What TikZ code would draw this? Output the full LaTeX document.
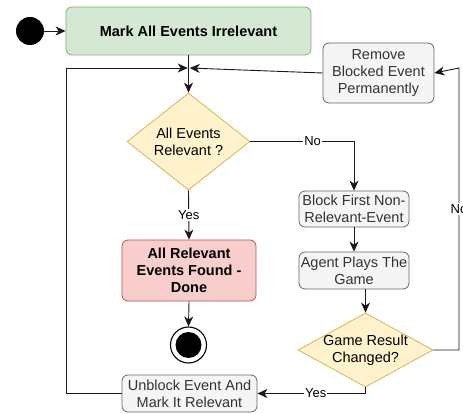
\documentclass[tikz,border=0pt]{standalone}
\usepackage{fontspec}
\setmainfont{Liberation Sans}
\usetikzlibrary{arrows.meta, shapes.geometric}
\definecolor{markgreen}{HTML}{D5E8D4}
\definecolor{markgreenline}{HTML}{82B366}
\definecolor{donered}{HTML}{F8CECC}
\definecolor{doneredline}{HTML}{B85450}
\definecolor{askyellow}{HTML}{FFF2CC}
\definecolor{askyellowline}{HTML}{D6B656}
\definecolor{stepgray}{HTML}{F5F5F5}
\definecolor{stepgrayline}{HTML}{666666}
\definecolor{steptext}{HTML}{333333}

\begin{document}
\begin{tikzpicture}[x=1pt, y=-1pt,
    font=\fontsize{14.5}{17}\selectfont,
    box/.style={draw, rounded corners=6pt, line width=0.8pt, align=center, inner sep=0pt},
    graybox/.style={box, fill=stepgray, draw=stepgrayline, text=steptext},
    ask/.style={diamond, draw=askyellowline, fill=askyellow, line width=0.8pt, inner sep=0pt},
    flow/.style={-{Stealth[length=10pt, width=9pt, inset=3pt]}, line width=0.9pt, black!90},
    lbl/.style={fill=white, text=black, font=\fontsize{13}{15}\selectfont, inner sep=1pt}]
    \useasboundingbox (0,0) rectangle (463,414);

    % start and first step
    \node[circle, fill=black, minimum size=28pt, inner sep=0pt] (start) at (30,31) {};
    \node[box, fill=markgreen, draw=markgreenline, minimum width=245pt, minimum height=48pt,
          font=\fontsize{14.5}{17}\selectfont\bfseries] (mark) at (188.5,31) {Mark All Events Irrelevant};
    \draw[flow] (start) -- (mark);

    % steps
    \node[graybox, minimum width=111pt, minimum height=60pt] (remove) at (378.5,73) {Remove\\Blocked Event\\Permanently};
    \node[graybox, minimum width=110pt, minimum height=36pt] (block) at (354,209) {Block First Non-\\Relevant-Event};
    \node[graybox, minimum width=110pt, minimum height=37pt] (agent) at (354,270.5) {Agent Plays The\\Game};
    \node[graybox, minimum width=135pt, minimum height=37pt] (unblock) at (189.5,393.5) {Unblock Event And\\Mark It Relevant};
    \node[box, fill=donered, draw=doneredline, minimum width=134pt, minimum height=61pt,
          font=\fontsize{14.5}{17}\selectfont\bfseries] (done) at (189,270.5) {All Relevant\\Events Found -\\Done};

    % decisions
    \node[ask, minimum width=123pt, minimum height=97pt] (allq) at (188.5,141.5) {};
    \node[align=center] (allqtext) at (allq) {All Events\\Relevant ?};
    \node[ask, minimum width=135pt, minimum height=74pt] (game) at (365.5,350) {};
    \node[align=center] (gametext) at (game) {Game Result\\Changed?};

    % end
    \node[circle, draw, fill=white, line width=1.1pt, minimum size=36pt, inner sep=0pt] (finish) at (188.5,345) {};
    \fill[black] (finish.center) circle (13pt);

    % merge point above the first decision
    \coordinate (merge) at (188.7,68);
    \coordinate (loopL) at (66,68);
    \coordinate (loopR) at (459,68);

    \draw[flow] (mark.south) -- (allq.north);
    \draw[flow, shorten >=1pt] (unblock.west) -| (loopL) -- (merge);
    \draw[flow, shorten >=1pt] (remove.west) -- (merge);

    \draw[flow] (allq.east) -| node[lbl, pos=0.3] {No} (block.north);
    \draw[flow] (allq.south) -- node[lbl] {Yes} (done.north);
    \draw[flow] (done.south) -- (finish.north);
    \draw[flow] (block.south) -- (agent.north);
    \draw[flow] (agent.south -| game.north) -- (game.north);
    \draw[flow] (game.east) -| node[lbl, pos=0.75] {No} (loopR) -- (remove.east);
    \draw[flow] (game.south) |- node[lbl, pos=0.73] {Yes} (unblock.east);
\end{tikzpicture}
\end{document}
